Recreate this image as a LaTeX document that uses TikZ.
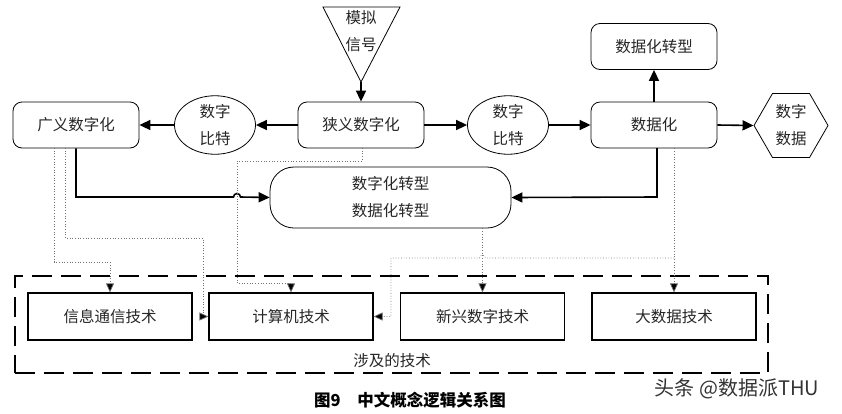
\documentclass[tikz,border=0pt]{standalone}
\usepackage{fontspec}
\setmainfont{Liberation Serif}
\newfontfamily\cjk{Noto Sans CJK SC}
\usetikzlibrary{shapes.geometric,arrows.meta}
\begin{document}
\begin{tikzpicture}[x=1pt,y=-1pt,
  every node/.style={font=\cjk\fontsize{15.5}{27}\selectfont, text=black!85, inner sep=0pt},
  rbox/.style={draw, rounded corners=9pt, line width=0.8pt, minimum width=126pt, minimum height=46pt},
  tbox/.style={draw, line width=1.2pt, minimum width=164pt, minimum height=47pt},
  ell/.style={draw, ellipse, line width=0.8pt, minimum width=81pt, minimum height=54pt, align=center},
  hexa/.style={draw, regular polygon, regular polygon sides=6, line width=0.8pt, minimum size=74pt, align=center},
  solidarrow/.style={line width=1.6pt, -{Triangle[length=11pt,width=10pt]}},
  dotarrow/.style={dotted, draw=black!55, line width=0.7pt, -{Triangle[length=9pt,width=8pt,fill=black]}},
]
\useasboundingbox (0,0) rectangle (842,413);

% top row
\draw[line width=0.8pt] (323,7) -- (400,7) -- (361,82) -- cycle;
\node[align=center] (mn) at (361,31) {模拟\\信号};
\coordinate (tri) at (361,82);

\node[rbox] (nx) at (361,125) {狭义数字化};
\node[rbox] (gy) at (76,125) {广义数字化};
\node[rbox] (sjh) at (654,125) {数据化};
\node[rbox] (sjzx) at (654,46.5) {数据化转型};
\node[ell] (b1) at (215,125) {数字\\比特};
\node[ell] (b2) at (508,125) {数字\\比特};
\node[hexa] (hex) at (791,125.5) {数字\\数据};

\draw[solidarrow] (tri) -- (nx.north);
\draw[solidarrow] (nx.west) -- (b1.east);
\draw[solidarrow] (b1.west) -- (gy.east);
\draw[solidarrow] (nx.east) -- (b2.west);
\draw[solidarrow] (b2.east) -- (sjh.west);
\draw[solidarrow] (sjh.east) -- (hex.west);
\draw[solidarrow] (sjh.north) -- (sjzx.south);

% transformation box
\node[draw, rounded corners=24pt, line width=0.8pt, minimum width=241pt, minimum height=61pt, align=center] (zx) at (390.5,197.5) {数字化转型\\数据化转型};

\draw[solidarrow] (gy.south) -- (76,197) -- (233.5,197) arc[start angle=180,end angle=0,radius=3.5pt] -- (zx.west);
\draw[solidarrow] (657,148) -- (657,197) -- (zx.east);

% technology group
\node[draw, line width=1.5pt, dash pattern=on 20pt off 9pt, minimum width=753pt, minimum height=97pt] (tech) at (391.5,324.5) {};
\node (techlbl) at (392,361) {涉及的技术};

\node[tbox] (xx) at (110,316.5) {信息通信技术};
\node[tbox] (jsj) at (291,316.5) {计算机技术};
\node[tbox] (xs) at (482.5,316.5) {新兴数字技术};
\node[tbox] (dsj) at (674,316.5) {大数据技术};

% dotted connectors
\draw[dotarrow] (362,148) -- (362,161) -- (237,161) -- (237,283) -- (291,283) -- (jsj.north);
\draw[dotarrow] (54,148) -- (54,262) -- (110,262) -- (xx.north);
\draw[dotarrow] (65,148) -- (65,238) -- (203,238) -- (203,316.5) -- (jsj.west);
\draw[dotarrow] (xs.north |- zx.south) -- (xs.north);
\draw[dotarrow] (dsj.north |- sjh.south) -- (dsj.north);
\draw[dotarrow] (674,258) -- (485.5,258) arc[start angle=0,end angle=180,radius=3pt] -- (391,258) -- (391,316.5) -- (jsj.east);

% caption and watermark
\node[font=\cjk\bfseries\fontsize{16.5}{20}\selectfont, text=black] (cap) at (410,400) {图9\quad 中文概念逻辑关系图};
\node[font=\cjk\fontsize{20}{24}\selectfont, text=black!80] (wm) at (737,389) {头条 @数据派THU};
\end{tikzpicture}
\end{document}
